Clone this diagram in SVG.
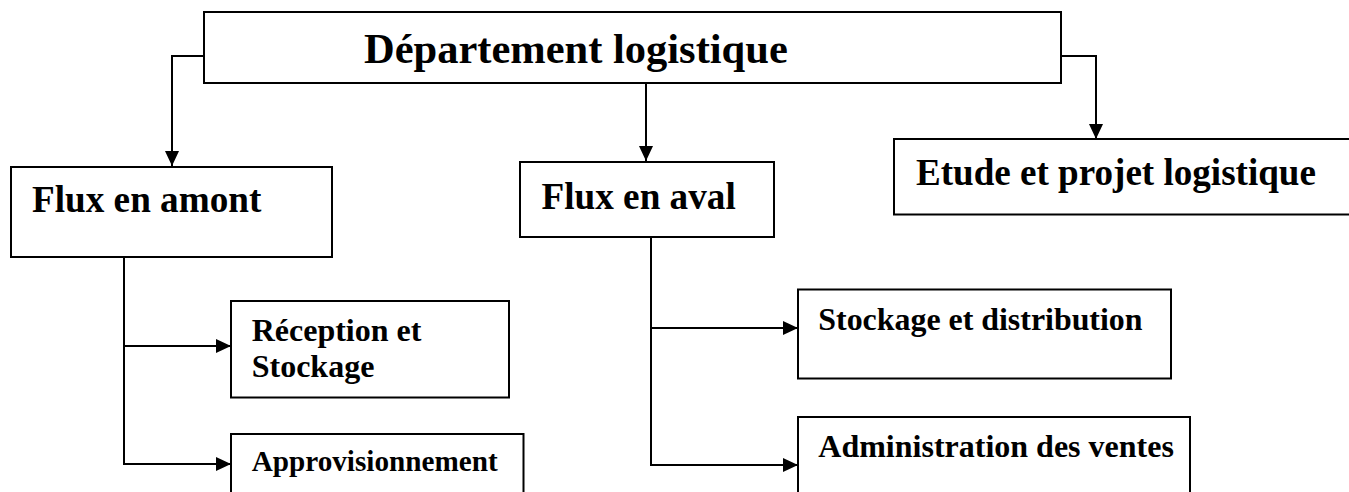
<svg xmlns="http://www.w3.org/2000/svg" width="1349" height="492" viewBox="0 0 1349 492">
<style>
.box{fill:#fff;stroke:#000;stroke-width:2}
.t{font-family:"Liberation Serif","Times New Roman",serif;font-weight:bold;fill:#000}
.c{fill:none;stroke:#000;stroke-width:2}
</style>
<defs>
<marker id="ah" viewBox="0 0 15 14" refX="15" refY="7" markerWidth="15" markerHeight="14" markerUnits="userSpaceOnUse" orient="auto">
<path d="M0,0 L15,7 L0,14 Z" fill="#000"/>
</marker>
</defs>
<rect width="1349" height="492" fill="#fff"/>
<g id="connectors">
<path class="c" d="M204,56 H172 V166" marker-end="url(#ah)"/>
<path class="c" d="M646,83 V161" marker-end="url(#ah)"/>
<path class="c" d="M1061,56 H1096 V139" marker-end="url(#ah)"/>
<path class="c" d="M124,257 V464 H231" marker-end="url(#ah)"/>
<path class="c" d="M124,346 H231" marker-end="url(#ah)"/>
<path class="c" d="M651,237 V465 H798" marker-end="url(#ah)"/>
<path class="c" d="M651,328 H798" marker-end="url(#ah)"/>
</g>
<g id="dept">
<rect class="box" x="204" y="12" width="857" height="71"/>
<text class="t" x="364" y="63" font-size="42.5">Département logistique</text>
</g>
<g id="amont">
<rect class="box" x="11" y="167" width="321" height="90"/>
<text class="t" x="32" y="211.5" font-size="37.2">Flux en amont</text>
</g>
<g id="aval">
<rect class="box" x="520" y="162" width="254" height="75"/>
<text class="t" x="541.5" y="208.5" font-size="37.2">Flux en aval</text>
</g>
<g id="etude">
<rect class="box" x="894" y="139" width="460" height="75.5"/>
<text class="t" x="916" y="185" font-size="37.1">Etude et projet logistique</text>
</g>
<g id="reception">
<rect class="box" x="231" y="301" width="278" height="96.5"/>
<text class="t" x="251.7" y="341" font-size="32">Réception et</text>
<text class="t" x="251.7" y="376.7" font-size="32">Stockage</text>
</g>
<g id="approv">
<rect class="box" x="231" y="434" width="292.5" height="70"/>
<text class="t" x="251.7" y="471" font-size="29.2">Approvisionnement</text>
</g>
<g id="stockage">
<rect class="box" x="798" y="289.5" width="373" height="89"/>
<text class="t" x="818.3" y="330" font-size="31.9">Stockage et distribution</text>
</g>
<g id="admin">
<rect class="box" x="798" y="417" width="392" height="90"/>
<text class="t" x="818.3" y="456.7" font-size="32">Administration des ventes</text>
</g>
</svg>
